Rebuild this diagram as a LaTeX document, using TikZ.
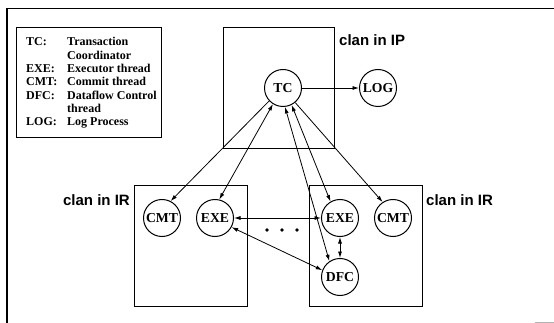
\documentclass[tikz,border=0pt]{standalone}
\usepackage{fontspec}
\setmainfont{Liberation Serif}
\newfontfamily\clanfont{Liberation Sans}
\usetikzlibrary{arrows.meta}
\begin{document}
\begin{tikzpicture}[x=1pt,y=-1pt,
  proc/.style={draw,circle,line width=1pt,minimum size=37pt,inner sep=0pt,
    font=\fontsize{13.7}{13.7}\selectfont\bfseries},
  clanbox/.style={draw,line width=0.9pt},
  clanlabel/.style={font=\clanfont\fontsize{15}{15}\selectfont\bfseries,inner sep=0pt},
  legtext/.style={anchor=base west,inner sep=0pt,font=\fontsize{12}{12}\selectfont\bfseries},
  link/.style={line width=0.8pt,-{Latex[length=6.5pt,width=4pt]}},
  dlink/.style={line width=0.8pt,{Latex[length=6.5pt,width=4pt]}-{Latex[length=6.5pt,width=4pt]}}]
\useasboundingbox (0,0) rectangle (554,323);

% outer frame (top and left sides)
\draw[line width=1.4pt] (554,8.5) -- (7,8.5) -- (7,323);
\draw[gray!60,line width=1pt] (535,322) -- (554,322);

% legend
\draw[line width=0.9pt] (16,27) rectangle (161,137);
\node[legtext] (l1a) at (26,46) {TC:};
\node[legtext] (l1b) at (67,46) {Transaction};
\node[legtext] (l2b) at (67,59.3) {Coordinator};
\node[legtext] (l3a) at (26,72.6) {EXE:};
\node[legtext] (l3b) at (67,72.6) {Executor thread};
\node[legtext] (l4a) at (26,85.9) {CMT:};
\node[legtext] (l4b) at (67,85.9) {Commit thread};
\node[legtext] (l5a) at (26,99.2) {DFC:};
\node[legtext] (l5b) at (67,99.2) {Dataflow Control};
\node[legtext] (l6b) at (67,112.5) {thread};
\node[legtext] (l7a) at (26,125.8) {LOG:};
\node[legtext] (l7b) at (67,125.8) {Log Process};

% clans
\draw[clanbox] (223,27) rectangle (334,148);
\node[clanlabel,anchor=west] (ipl) at (339,40) {clan in IP};
\draw[clanbox] (134,185) rectangle (247,306);
\node[clanlabel,anchor=east] (irl) at (130,200) {clan in IR};
\draw[clanbox] (309,185) rectangle (422,306);
\node[clanlabel,anchor=west] (irr) at (426,200) {clan in IR};

% processes
\node[proc] (tc) at (283,88) {TC};
\node[proc] (log) at (378,88) {LOG};
\node[proc] (cmtL) at (162,218) {CMT};
\node[proc] (exeL) at (215,218) {EXE};
\node[proc] (exeR) at (340,218) {EXE};
\node[proc] (cmtR) at (393,218) {CMT};
\node[proc] (dfc) at (340,277) {DFC};

% dots between the IR clans
\foreach \i/\x in {1/267,2/282,3/297}
  \fill (\x,230) circle (1.9pt);

% connections
\draw[link] (tc) -- (log);
\draw[link] (tc.223) -- (cmtL.63);
\draw[dlink] (tc.238) -- (exeL.77);
\draw[dlink] (tc.276) -- (dfc.124);
\draw[dlink] (tc.297) -- (exeR.120);
\draw[link] (tc.310) -- (cmtR.123);
\draw[dlink] (exeL.east) -- (exeR.west);
\draw[dlink] (exeL.-29) -- (dfc.159);
\draw[dlink] (exeR) -- (dfc);
\end{tikzpicture}
\end{document}
